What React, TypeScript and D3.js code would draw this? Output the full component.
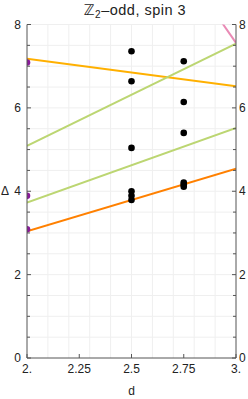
import React, { useEffect, useRef } from 'react';
import * as d3 from 'd3';

// data
const titleHead = 'ℤ';
const titleSub = '2';
const titleTail = '–odd, spin 3';
const xTicks = [2, 2.25, 2.5, 2.75, 3];
const xTickLabels = ['2.', '2.25', '2.5', '2.75', '3.'];
const yTicks = [0, 2, 4, 6, 8];

const pointD = [2.5, 2.5, 2.5, 2.5, 2.5, 2.5, 2.75, 2.75, 2.75, 2.75, 2.75, 2.75];
const pointDelta = [7.36, 6.64, 5.04, 4.0, 3.89, 3.79, 7.12, 6.14, 5.4, 4.21, 4.16, 4.11];

const edgeD = [2, 2, 2];
const edgeDelta = [7.09, 3.89, 3.09];

// straight lines: [d0, Δ0, d1, Δ1]
const lineNames = ['gold', 'greenUpper', 'greenLower', 'orange', 'pink'];
const lineStart = [[2, 7.18], [2, 5.09], [2, 3.73], [2, 3.04], [2.9, 8.28]];
const lineEnd = [[3, 6.52], [3, 7.54], [3, 5.52], [3, 4.54], [3, 7.56]];
const lineColors = ['#ffb000', '#bcd672', '#bcd672', '#ff8000', '#e98ab5'];

const App = () => {
    const ref = useRef<HTMLDivElement>(null);

    useEffect(() => {
        const W = 248, H = 399;
        const margin = { left: 27, right: 12, top: 24.5, bottom: 41 };
        const width = W - margin.left - margin.right;
        const height = H - margin.top - margin.bottom;

        d3.select(ref.current).selectAll('*').remove();
        const svg = d3.select(ref.current).append('svg')
            .attr('width', W)
            .attr('height', H)
            .style('display', 'block')
            .style('font-family', '"Liberation Sans", Arial, sans-serif');

        const g = svg.append('g')
            .attr('transform', `translate(${margin.left}, ${margin.top})`);

        const x = d3.scaleLinear().domain([2, 3]).range([0, width]);
        const y = d3.scaleLinear().domain([0, 8]).range([height, 0]);

        // faint grid
        const grid = g.append('g').attr('stroke', '#efefef').attr('stroke-width', 1);
        d3.range(2.1, 2.95, 0.1).forEach(v => {
            grid.append('line').attr('x1', x(v)).attr('x2', x(v)).attr('y1', 0).attr('y2', height);
        });
        d3.range(0.5, 8.01, 0.5).forEach(v => {
            grid.append('line').attr('x1', 0).attr('x2', width).attr('y1', y(v)).attr('y2', y(v));
        });

        // clip for lines and points
        svg.append('defs').append('clipPath').attr('id', 'plotclip')
            .append('rect').attr('x', 0).attr('y', 0).attr('width', width).attr('height', height);
        const plot = g.append('g').attr('clip-path', 'url(#plotclip)');

        lineNames.forEach((name, i) => {
            plot.append('line')
                .attr('class', name)
                .attr('x1', x(lineStart[i][0]))
                .attr('y1', y(lineStart[i][1]))
                .attr('x2', x(lineEnd[i][0]))
                .attr('y2', y(lineEnd[i][1]))
                .attr('stroke', lineColors[i])
                .attr('stroke-width', 2);
        });

        edgeD.forEach((d, i) => {
            plot.append('circle')
                .attr('cx', x(d))
                .attr('cy', y(edgeDelta[i]))
                .attr('r', 3.3)
                .attr('fill', '#8a1a9b');
        });

        pointD.forEach((d, i) => {
            plot.append('circle')
                .attr('cx', x(d))
                .attr('cy', y(pointDelta[i]))
                .attr('r', 3.3)
                .attr('fill', '#000');
        });

        // axes frame
        const axisColor = '#555';
        const frame = g.append('g').attr('stroke', axisColor).attr('stroke-width', 1).attr('fill', 'none');
        frame.append('line').attr('x1', 0).attr('x2', 0).attr('y1', 0).attr('y2', height);
        frame.append('line').attr('x1', width).attr('x2', width).attr('y1', 0).attr('y2', height);
        frame.append('line').attr('x1', 0).attr('x2', width).attr('y1', height).attr('y2', height);

        // y ticks (every 0.5, inward)
        d3.range(0, 8.01, 0.5).forEach(v => {
            const len = v % 2 === 0 ? 4 : 3;
            frame.append('line').attr('x1', 0).attr('x2', len).attr('y1', y(v)).attr('y2', y(v));
            frame.append('line').attr('x1', width - len).attr('x2', width).attr('y1', y(v)).attr('y2', y(v));
        });
        // x ticks
        xTicks.forEach(v => {
            frame.append('line').attr('x1', x(v)).attr('x2', x(v)).attr('y1', height).attr('y2', height - 4);
        });

        const labels = g.append('g').attr('font-size', '12px').attr('fill', '#222');
        yTicks.forEach(v => {
            labels.append('text')
                .attr('x', -6).attr('y', y(v)).attr('dy', '0.35em')
                .attr('text-anchor', 'end').text(String(v));
            labels.append('text')
                .attr('x', width + 3).attr('y', y(v)).attr('dy', '0.35em')
                .attr('text-anchor', 'start').text(String(v));
        });
        xTicks.forEach((v, i) => {
            labels.append('text')
                .attr('x', x(v)).attr('y', height + 15)
                .attr('text-anchor', 'middle').text(xTickLabels[i]);
        });

        // axis labels and title
        svg.append('text')
            .attr('x', 5).attr('y', margin.top + y(4)).attr('dy', '0.35em')
            .attr('font-size', '12px').attr('fill', '#222').attr('text-anchor', 'middle')
            .text('Δ');
        svg.append('text')
            .attr('x', margin.left + width / 2).attr('y', 395)
            .attr('font-size', '12px').attr('fill', '#222').attr('text-anchor', 'middle')
            .text('d');
        const t = svg.append('text')
            .attr('x', 135).attr('y', 14.5)
            .attr('font-size', '14.5px').attr('fill', '#222').attr('text-anchor', 'middle')
            .attr('letter-spacing', '0.5px');
        t.append('tspan').attr('font-family', '"DejaVu Sans", sans-serif').text(titleHead);
        t.append('tspan').attr('font-size', '10px').attr('dy', 3).text(titleSub);
        t.append('tspan').attr('dy', -3).text(titleTail);
    }, []);

    return <div ref={ref} style={{ position: 'absolute', left: 0, top: 0, width: 248, height: 399, overflow: 'hidden' }} />;
};

export default App;
